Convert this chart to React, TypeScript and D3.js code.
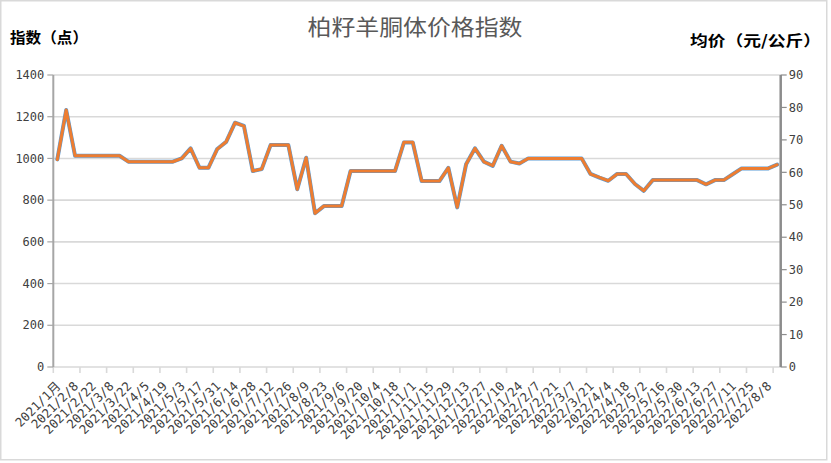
import React from "react";
import * as d3 from "d3";

const dates: string[] = [
  "2021/1月", "2021/2/1", "2021/2/8", "2021/2/15", "2021/2/22", "2021/3/1", "2021/3/8", "2021/3/15", "2021/3/22", "2021/3/29",
  "2021/4/5", "2021/4/12", "2021/4/19", "2021/4/26", "2021/5/3", "2021/5/10", "2021/5/17", "2021/5/24", "2021/5/31", "2021/6/7",
  "2021/6/14", "2021/6/21", "2021/6/28", "2021/7/5", "2021/7/12", "2021/7/19", "2021/7/26", "2021/8/2", "2021/8/9", "2021/8/16",
  "2021/8/23", "2021/8/30", "2021/9/6", "2021/9/13", "2021/9/20", "2021/9/27", "2021/10/4", "2021/10/11", "2021/10/18", "2021/10/25",
  "2021/11/1", "2021/11/8", "2021/11/15", "2021/11/22", "2021/11/29", "2021/12/6", "2021/12/13", "2021/12/20", "2021/12/27", "2022/1/3",
  "2022/1/10", "2022/1/17", "2022/1/24", "2022/1/31", "2022/2/7", "2022/2/14", "2022/2/21", "2022/2/28", "2022/3/7", "2022/3/14",
  "2022/3/21", "2022/3/28", "2022/4/4", "2022/4/11", "2022/4/18", "2022/4/25", "2022/5/2", "2022/5/9", "2022/5/16", "2022/5/23",
  "2022/5/30", "2022/6/6", "2022/6/13", "2022/6/20", "2022/6/27", "2022/7/4", "2022/7/11", "2022/7/18", "2022/7/25", "2022/8/1",
  "2022/8/8", "2022/8/15",
];

const indexValues: number[] = [
  995, 1232, 1013, 1013, 1013, 1013, 1013, 1013, 984, 984,
  984, 984, 984, 984, 1000, 1048, 955, 955, 1045, 1080,
  1171, 1155, 940, 949, 1064, 1064, 1064, 852, 1003, 737,
  772, 772, 772, 940, 940, 940, 940, 940, 940, 1077,
  1077, 892, 892, 892, 955, 766, 972, 1048, 984, 965,
  1061, 984, 976, 1000, 1000, 1000, 1000, 1000, 1000, 1000,
  925, 909, 893, 925, 925, 877, 845, 896, 896, 896,
  896, 896, 896, 876, 896, 896, 924, 952, 952, 952,
  952, 970,
];

const priceValues: number[] = [
  64.0, 79.2, 65.1, 65.1, 65.1, 65.1, 65.1, 65.1, 63.3, 63.3,
  63.3, 63.3, 63.3, 63.3, 64.3, 67.4, 61.4, 61.4, 67.2, 69.4,
  75.3, 74.3, 60.4, 61.0, 68.4, 68.4, 68.4, 54.8, 64.5, 47.4,
  49.6, 49.6, 49.6, 60.4, 60.4, 60.4, 60.4, 60.4, 60.4, 69.2,
  69.2, 57.3, 57.3, 57.3, 61.4, 49.2, 62.5, 67.4, 63.3, 62.0,
  68.2, 63.3, 62.7, 64.3, 64.3, 64.3, 64.3, 64.3, 64.3, 64.3,
  59.5, 58.4, 57.4, 59.5, 59.5, 56.4, 54.3, 57.6, 57.6, 57.6,
  57.6, 57.6, 57.6, 56.3, 57.6, 57.6, 59.4, 61.2, 61.2, 61.2,
  61.2, 62.4,
];

const leftTicks: number[] = [0, 200, 400, 600, 800, 1000, 1200, 1400];
const rightTicks: number[] = [0, 10, 20, 30, 40, 50, 60, 70, 80, 90];

const title = "柏籽羊胴体价格指数";
const leftTitle = "指数（点）";
const rightTitle = "均价（元/公斤）";

const W = 831;
const H = 463;
const axL = 53.3;
const axR = 780.7;
const plotTop = 75;
const plotBottom = 367;

export default function App() {
  const n = dates.length;
  const x = d3.scaleLinear().domain([-0.45, n - 1 + 0.4]).range([axL, axR]);
  const yL = d3.scaleLinear().domain([0, 1400]).range([plotBottom, plotTop]);
  const yR = d3.scaleLinear().domain([0, 90]).range([plotBottom, plotTop]);

  const lineL = d3.line<number>().x((_, i) => x(i)).y((d) => yL(d));
  const lineR = d3.line<number>().x((_, i) => x(i)).y((d) => yR(d));

  const xTicks: number[] = [];
  for (let v = -0.45; v <= n - 1 + 0.4 + 1e-6; v += 3) xTicks.push(v);

  const tickFont = "'DejaVu Sans Mono', 'Noto Sans CJK SC', monospace";
  const cjk = "'Noto Sans CJK SC', sans-serif";

  return (
    <svg
      width={W}
      height={H}
      style={{ position: "fixed", left: 0, top: 0, background: "#fff" }}
    >
      <rect x={0} y={0} width={W} height={H} fill="#fff" />
      <rect x={0.75} y={0.75} width={826} height={459} fill="none" stroke="#d9d9d9" strokeWidth={1.5} />

      {leftTicks.filter((t) => t > 0).map((t) => (
        <line key={"g" + t} x1={axL} x2={axR} y1={yL(t)} y2={yL(t)} stroke="#d9d9d9" strokeWidth={1.6} />
      ))}

      <line x1={axL} x2={axR} y1={plotBottom} y2={plotBottom} stroke="#d9d9d9" strokeWidth={1.6} />
      {xTicks.map((t, i) => (
        <line key={"xt" + i} x1={x(t)} x2={x(t)} y1={plotBottom} y2={plotBottom + 6} stroke="#d9d9d9" strokeWidth={1.6} />
      ))}

      <line x1={axL} x2={axL} y1={plotTop} y2={plotBottom} stroke="#a6a6a6" strokeWidth={2} />
      {leftTicks.map((t) => (
        <g key={"lt" + t}>
          <line x1={axL - 6} x2={axL} y1={yL(t)} y2={yL(t)} stroke="#a6a6a6" strokeWidth={1.2} />
          <text x={axL - 9} y={yL(t)} dy="0.35em" textAnchor="end" fontSize={12} fontFamily={tickFont} fill="#404040">
            {t}
          </text>
        </g>
      ))}

      <line x1={axR} x2={axR} y1={plotTop} y2={plotBottom} stroke="#8c8c8c" strokeWidth={2.5} />
      {rightTicks.map((t) => (
        <g key={"rt" + t}>
          <line x1={axR} x2={axR + 6} y1={yR(t)} y2={yR(t)} stroke="#8c8c8c" strokeWidth={1.2} />
          <text x={axR + 8} y={yR(t)} dy="0.35em" textAnchor="start" fontSize={12} fontFamily={tickFont} fill="#404040">
            {t}
          </text>
        </g>
      ))}

      {dates.map((d, i) =>
        i % 2 === 0 ? (
          <text
            key={"xl" + i}
            transform={`translate(${x(i) + 4},${plotBottom + 20}) rotate(-45)`}
            textAnchor="end"
            fontSize={12.5}
            fontFamily={tickFont}
            fill="#404040"
          >
            {d}
          </text>
        ) : null
      )}

      <path d={lineR(priceValues) || ""} fill="none" stroke="#5b9bd5" strokeWidth={4} strokeLinejoin="round" strokeLinecap="round" />
      <path d={lineL(indexValues) || ""} fill="none" stroke="#ed7d31" strokeWidth={3} strokeLinejoin="round" strokeLinecap="round" />

      <text x={415} y={35} textAnchor="middle" fontSize={22} fontFamily={cjk} fill="#595959" textLength={215} lengthAdjust="spacingAndGlyphs">
        {title}
      </text>
      <text x={10} y={43} fontSize={15} fontWeight="bold" fontFamily={cjk} fill="#000" textLength={78} lengthAdjust="spacingAndGlyphs">
        {leftTitle}
      </text>
      <text x={821} y={46} textAnchor="end" fontSize={15} fontWeight="bold" fontFamily={cjk} fill="#000" textLength={131} lengthAdjust="spacingAndGlyphs">
        {rightTitle}
      </text>
    </svg>
  );
}
